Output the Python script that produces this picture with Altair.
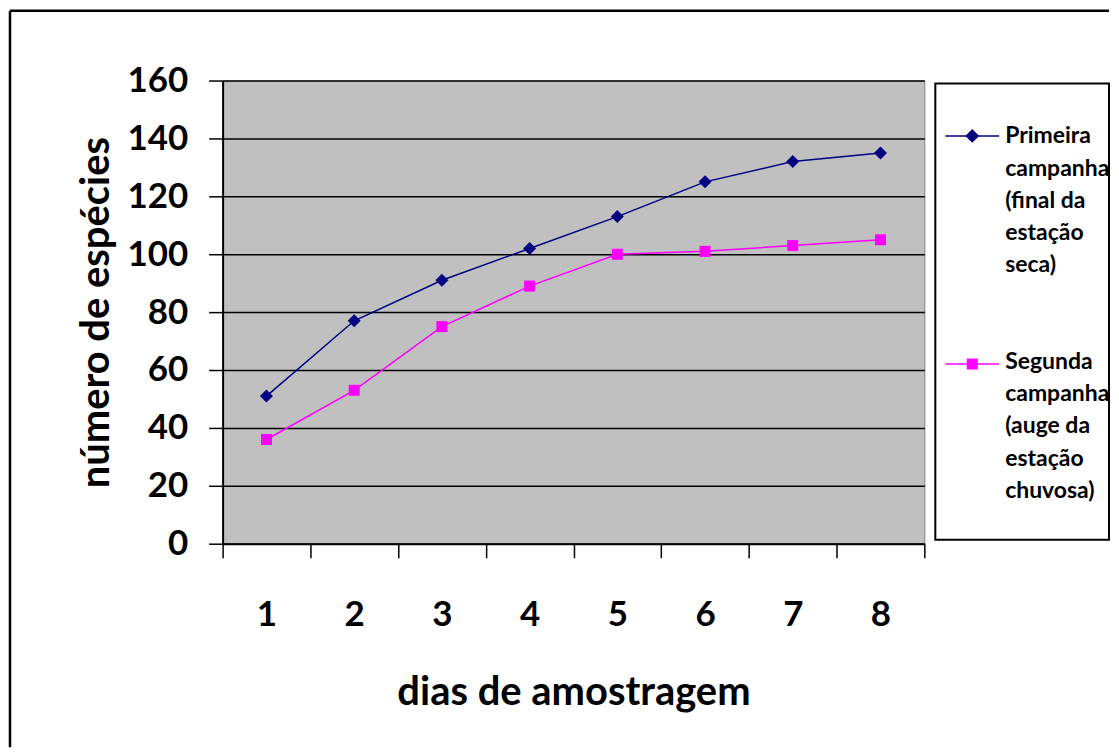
import altair as alt
import pandas as pd

dias = [1, 2, 3, 4, 5, 6, 7, 8]
primeira = [51, 77, 91, 102, 113, 125, 132, 135]
segunda = [36, 53, 75, 89, 100, 101, 103, 105]
serie1 = "Primeira campanha (final da estação seca)"
serie2 = "Segunda campanha (auge da estação chuvosa)"
series = [serie1, serie2]
cores = ["#000080", "#FF00FF"]
legenda1 = ["Primeira", "campanha", "(final da", "estação", "seca)"]
legenda2 = ["Segunda", "campanha", "(auge da", "estação", "chuvosa)"]
y_ticks = [0, 20, 40, 60, 80, 100, 120, 140, 160]
x_ticks = [0.5, 1, 1.5, 2, 2.5, 3, 3.5, 4, 4.5, 5, 5.5, 6, 6.5, 7, 7.5, 8, 8.5]

df = pd.DataFrame({
    "dia": dias + dias,
    "valor": primeira + segunda,
    "serie": [serie1] * len(dias) + [serie2] * len(dias),
})
one = pd.DataFrame({"a": [0]})

FONT = "Lato"
W, H = 703, 464

xs = alt.Scale(domain=[0.5, 8.5], nice=False, zero=False)
ys = alt.Scale(domain=[0, 160], nice=False)
cs = alt.Scale(domain=series, range=cores)

x_axis = alt.Axis(
    values=x_ticks, title="dias de amostragem",
    labelExpr="datum.value % 1 === 0 ? format(datum.value, 'd') : ''",
    tickOpacity=alt.condition("datum.value % 1 === 0", alt.value(0), alt.value(1)),
    tickSize=14, tickWidth=1.5, tickColor="black",
    domainColor="black", domainWidth=2, grid=False,
    labelFont=FONT, labelFontSize=35, labelFontWeight="bold", labelColor="black",
    labelPadding=40, labelOverlap=False, labelFlush=False,
    titleFont=FONT, titleFontSize=40, titleFontWeight="bold", titleColor="black",
    titlePadding=40,
)
y_axis = alt.Axis(
    values=y_ticks, title="número de espécies",
    tickSize=14, tickWidth=1.5, tickColor="black",
    domainColor="black", domainWidth=2,
    grid=True, gridColor="black", gridWidth=1.5,
    labelFont=FONT, labelFontSize=35, labelFontWeight="bold", labelColor="black",
    labelPadding=21,
    titleFont=FONT, titleFontSize=40, titleFontWeight="bold", titleColor="black",
    titlePadding=10,
)

base = alt.Chart(df)

# outer chart frame: only top and left edges are visible in the reference
frame_top = alt.Chart(one).mark_rule(stroke="black", strokeWidth=2.5).encode(
    x=alt.value(-213), x2=alt.value(888), y=alt.value(-70)
)
frame_left = alt.Chart(one).mark_rule(stroke="black", strokeWidth=2.5).encode(
    x=alt.value(-213), y=alt.value(-70), y2=alt.value(668)
)

line = base.mark_line(strokeWidth=1.5).encode(
    x=alt.X("dia:Q", scale=xs, axis=x_axis),
    y=alt.Y("valor:Q", scale=ys, axis=y_axis),
    color=alt.Color("serie:N", scale=cs, legend=None),
)
p1 = base.transform_filter(alt.datum.serie == serie1).mark_point(
    shape="diamond", filled=True, size=170, opacity=1
).encode(x="dia:Q", y="valor:Q", color=alt.Color("serie:N", scale=cs, legend=None))
p2 = base.transform_filter(alt.datum.serie == serie2).mark_point(
    shape="square", filled=True, size=121, opacity=1
).encode(x="dia:Q", y="valor:Q", color=alt.Color("serie:N", scale=cs, legend=None))

# legend (boxed, at the right of the plot)
legbox = alt.Chart(one).mark_rect(fill="white", stroke="black", strokeWidth=2).encode(
    x=alt.value(714), x2=alt.value(888), y=alt.value(3), y2=alt.value(460)
)


def legend_entry(lines, color, shape, size, yc, ytxt):
    seg = alt.Chart(one).mark_rule(color=color, strokeWidth=1.5).encode(
        x=alt.value(724), x2=alt.value(778), y=alt.value(yc)
    )
    sym = alt.Chart(one).mark_point(
        shape=shape, filled=True, size=size, color=color, opacity=1
    ).encode(x=alt.value(751), y=alt.value(yc))
    txt = alt.Chart(one).mark_text(
        align="left", baseline="alphabetic", font=FONT, fontSize=23,
        fontWeight="bold", color="black", lineHeight=32.3,
    ).encode(x=alt.value(784), y=alt.value(ytxt), text=alt.value(lines))
    return [seg, sym, txt]


leg1 = legend_entry(legenda1, cores[0], "diamond", 190, 55.5, 63)
leg2 = legend_entry(legenda2, cores[1], "square", 121, 284, 289)

chart = alt.layer(
    frame_top, frame_left, legbox, line, p1, p2, *leg1, *leg2
).properties(
    width=W, height=H, padding=0
).configure_view(
    fill="#C0C0C0", stroke="#808080", strokeWidth=1
)

chart.save("out.html", embed_options={"renderer": "svg", "actions": False})
